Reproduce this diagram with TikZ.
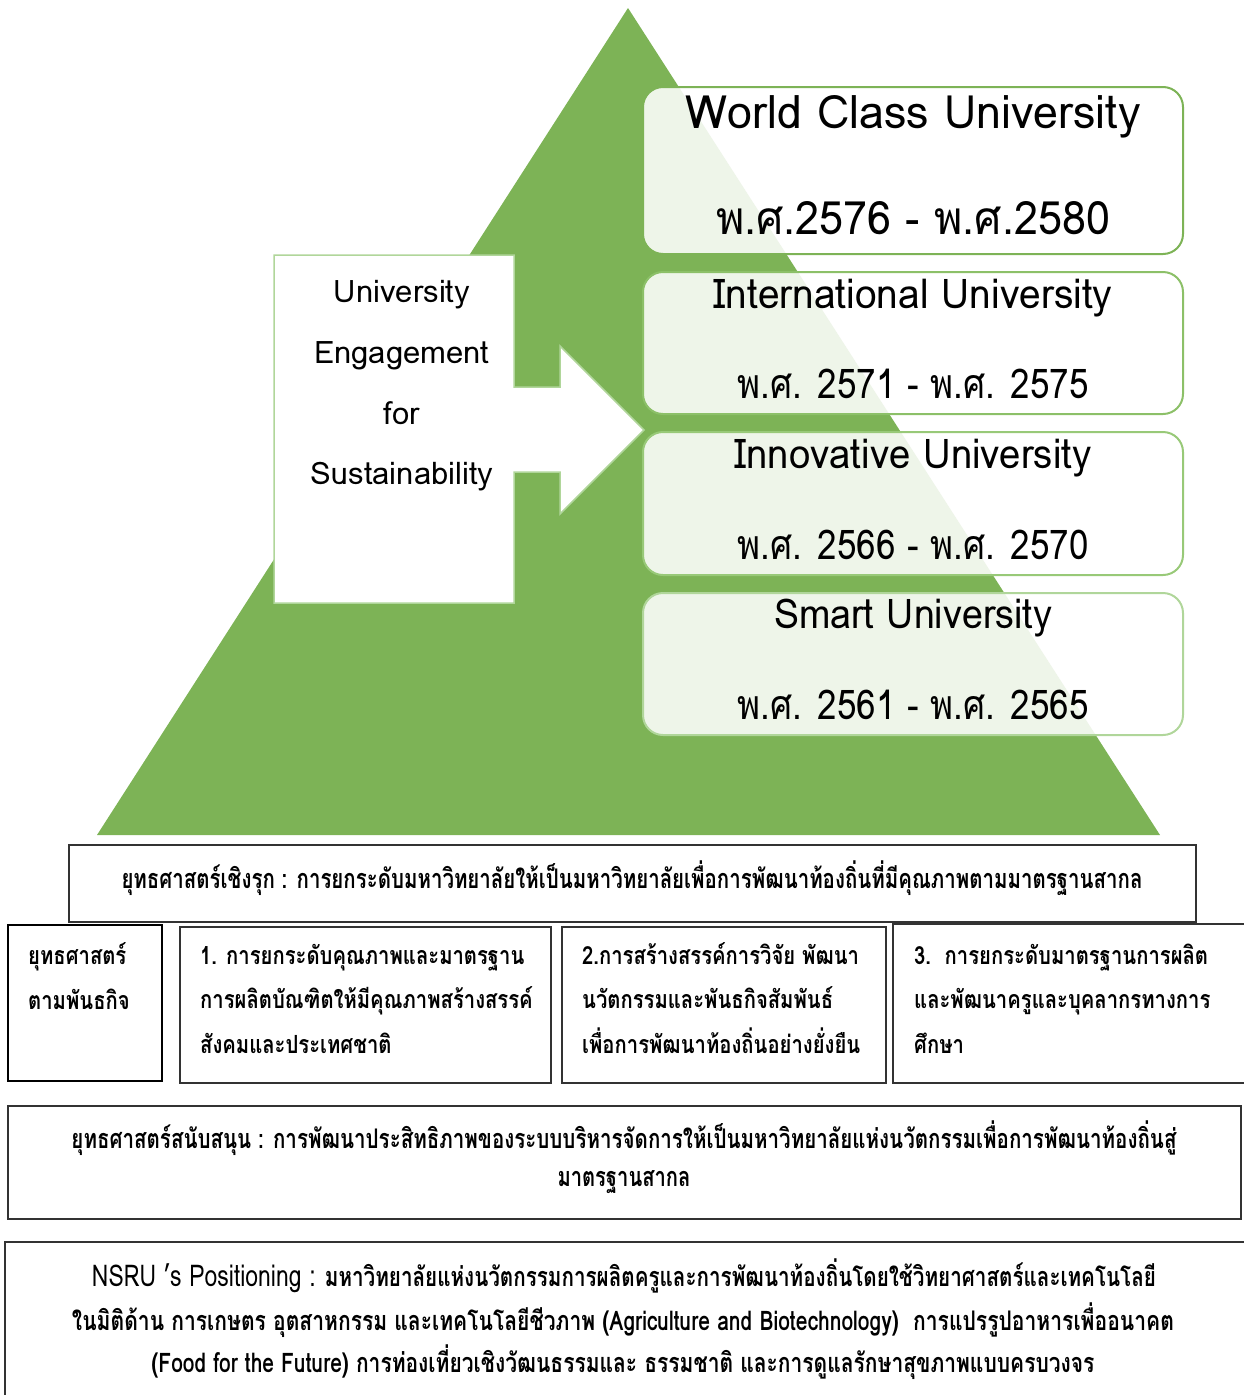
\documentclass[tikz,border=0pt]{standalone}
\usepackage{fontspec}
\usepackage{graphicx}
\setmainfont[Script=Thai]{Loma}
\usetikzlibrary{positioning}

\definecolor{pyrgreen}{HTML}{7DB356}
\definecolor{edgeA}{HTML}{7DB356}
\definecolor{edgeB}{HTML}{8CC068}
\definecolor{edgeC}{HTML}{98C978}
\definecolor{edgeD}{HTML}{B0D69A}
\definecolor{boxline}{HTML}{333333}

% squeeze a line to a given width, keep its height
\newcommand{\fitto}[2]{\resizebox{#1}{\height}{#2}}
% left-aligned lines, slightly condensed
\newcommand{\rowlines}[1]{\scalebox{0.81}[1]{\begin{tabular}{@{}l@{}}#1\end{tabular}}}

\begin{document}
\begin{tikzpicture}[x=1pt, y=-1pt,
  stage/.style={line width=2pt, rounded corners=20pt, fill=white, fill opacity=0.87,
    minimum width=540pt, inner sep=0pt, outer sep=0pt},
  stagetitle/.style={font=\fontsize{41}{48}\selectfont, inner sep=0pt},
  stagedate/.style={font=\fontsize{41}{48}\selectfont, inner sep=0pt},
  engtext/.style={align=center, font=\fontsize{31}{60.7}\selectfont, inner sep=0pt},
  planbox/.style={draw=boxline, line width=1.3pt, inner sep=0pt, outer sep=0pt},
  striptext/.style={font=\bfseries\fontsize{27}{32}\selectfont, inner sep=0pt},
  rowtext/.style={anchor=west, font=\bfseries\fontsize{25}{44.5}\selectfont, inner sep=0pt}
]
\useasboundingbox (0,0) rectangle (1243,1395);

% ---------- pyramid ----------
\fill[pyrgreen] (628,8) -- (1160,835) -- (97,835) -- cycle;

% ---------- engagement panel with arrow ----------
\draw[fill=white, draw=edgeD, line width=1.5pt]
  (274,255) -- (514,255) -- (514,387) -- (560,387) -- (560,346) -- (644,430)
  -- (560,514) -- (560,472) -- (514,472) -- (514,603) -- (274,603) -- cycle;
\node[engtext] (engage) at (402,386)
  {University\\Engagement\\for\\Sustainability};

% ---------- stages ----------
\node[stage, draw=edgeA, minimum height=167pt] (wcu) at (913,170.5) {};
\node[stagetitle, font=\fontsize{46}{52}\selectfont] (wcuT) at (913,117)
  {\fitto{455pt}{World Class University}};
\node[stagedate, font=\fontsize{46}{52}\selectfont] (wcuD) at (913,218)
  {\fitto{394pt}{พ.ศ.2576 - พ.ศ.2580}};

\node[stage, draw=edgeB, minimum height=142pt] (intl) at (913,343) {};
\node[stagetitle] (intlT) at (913,298) {\fitto{399pt}{International University}};
\node[stagedate] (intlD) at (913,384) {\fitto{351pt}{พ.ศ. 2571 - พ.ศ. 2575}};

\node[stage, draw=edgeC, minimum height=143pt] (innov) at (913,503.5) {};
\node[stagetitle] (innovT) at (913,458) {\fitto{357pt}{Innovative University}};
\node[stagedate] (innovD) at (913,545) {\fitto{351pt}{พ.ศ. 2566 - พ.ศ. 2570}};

\node[stage, draw=edgeD, minimum height=142pt] (smart) at (913,664) {};
\node[stagetitle] (smartT) at (913,618) {\fitto{278pt}{Smart University}};
\node[stagedate] (smartD) at (913,705) {\fitto{351pt}{พ.ศ. 2561 - พ.ศ. 2565}};

% ---------- proactive strategy ----------
\node[planbox, minimum width=1127pt, minimum height=77pt] (proactive) at (632.5,883.5) {};
\node[striptext] (proactiveT) at (632,878)
  {\fitto{1021pt}{ยุทธศาสตร์เชิงรุก : การยกระดับมหาวิทยาลัยให้เป็นมหาวิทยาลัยเพื่อการพัฒนาท้องถิ่นที่มีคุณภาพตามมาตรฐานสากล}};

% ---------- mission strategies ----------
\node[planbox, line width=2pt, draw=black, minimum width=154pt, minimum height=156pt] (mission) at (85,1003) {};
\node[rowtext] (missionT) at (28,978) {\rowlines{ยุทธศาสตร์\\ตามพันธกิจ}};

\node[planbox, minimum width=371pt, minimum height=156pt] (goalA) at (365.5,1005) {};
\node[rowtext] (goalAT) at (200,1000)
  {\rowlines{1. การยกระดับคุณภาพและมาตรฐาน\\การผลิตบัณฑิตให้มีคุณภาพสร้างสรรค์\\สังคมและประเทศชาติ}};

\node[planbox, minimum width=324pt, minimum height=156pt] (goalB) at (724,1005) {};
\node[rowtext] (goalBT) at (582,1000)
  {\rowlines{2.การสร้างสรรค์การวิจัย พัฒนา\\นวัตกรรมและพันธกิจสัมพันธ์\\เพื่อการพัฒนาท้องถิ่นอย่างยั่งยืน}};

\node[planbox, minimum width=357pt, minimum height=159pt] (goalC) at (1071.5,1003.5) {};
\node[rowtext] (goalCT) at (914,1000)
  {\rowlines{3.~~การยกระดับมาตรฐานการผลิต\\และพัฒนาครูและบุคลากรทางการ\\ศึกษา}};

% ---------- supporting strategy ----------
\node[planbox, minimum width=1233pt, minimum height=113pt] (support) at (624.5,1162.5) {};
\node[striptext] (supportA) at (624,1138)
  {\fitto{1105pt}{ยุทธศาสตร์สนับสนุน : การพัฒนาประสิทธิภาพของระบบบริหารจัดการให้เป็นมหาวิทยาลัยแห่งนวัตกรรมเพื่อการพัฒนาท้องถิ่นสู่}};
\node[striptext] (supportB) at (624,1182) {\fitto{133pt}{มาตรฐานสากล}};

% ---------- positioning ----------
\node[planbox, minimum width=1245pt, minimum height=158pt] (position) at (627.5,1321) {};
\node[striptext] (positionA) at (624,1276)
  {\fitto{1064pt}{{\mdseries\fontsize{30}{34}\selectfont NSRU ’s Positioning :} มหาวิทยาลัยแห่งนวัตกรรมการผลิตครูและการพัฒนาท้องถิ่นโดยใช้วิทยาศาสตร์และเทคโนโลยี}};
\node[striptext] (positionB) at (623,1320)
  {\fitto{1102pt}{ในมิติด้าน การเกษตร อุตสาหกรรม และเทคโนโลยีชีวภาพ (Agriculture and Biotechnology)~ การแปรรูปอาหารเพื่ออนาคต}};
\node[striptext] (positionC) at (623,1362)
  {\fitto{943pt}{(Food for the Future) การท่องเที่ยวเชิงวัฒนธรรมและ ธรรมชาติ และการดูแลรักษาสุขภาพแบบครบวงจร}};

\end{tikzpicture}
\end{document}
